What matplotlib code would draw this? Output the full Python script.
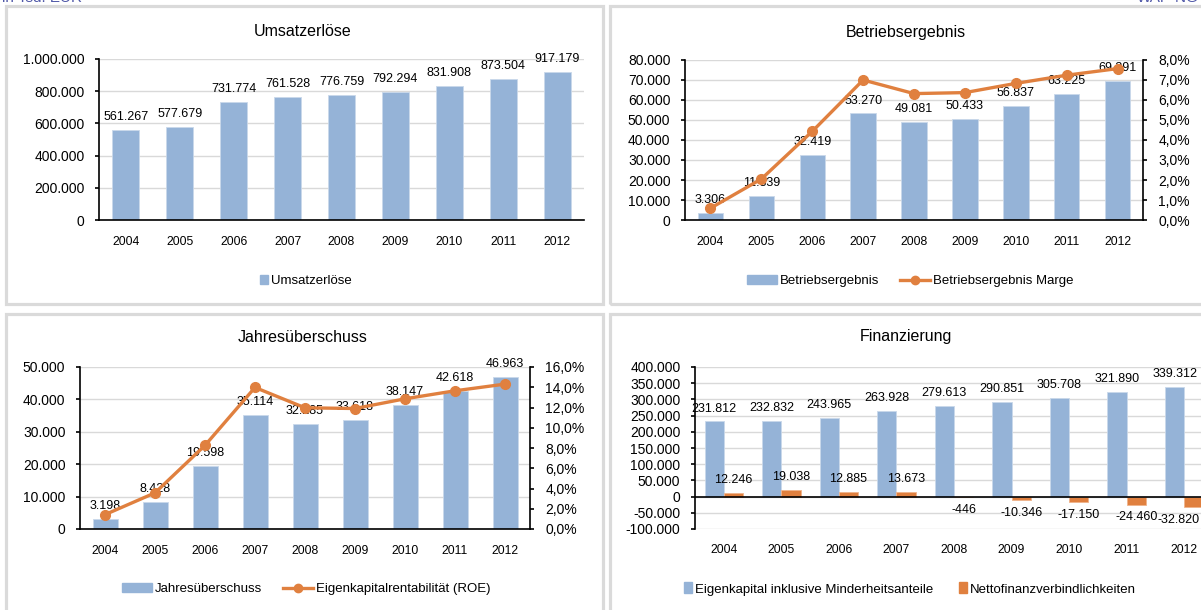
import matplotlib
matplotlib.use("Agg")
import matplotlib.pyplot as plt
from matplotlib.patches import Rectangle, Patch
from matplotlib.lines import Line2D
from matplotlib.ticker import FuncFormatter, MultipleLocator

plt.rcParams['font.family'] = ['Liberation Sans', 'DejaVu Sans']

years = ['2004', '2005', '2006', '2007', '2008', '2009', '2010', '2011', '2012']
umsatz = [561267, 577679, 731774, 761528, 776759, 792294, 831908, 873504, 917179]
betriebsergebnis = [3306, 11839, 32419, 53270, 49081, 50433, 56837, 63225, 69391]
betrieb_marge = [0.59, 2.05, 4.43, 7.00, 6.32, 6.37, 6.83, 7.24, 7.57]
jahresueberschuss = [3198, 8428, 19598, 35114, 32285, 33618, 38147, 42618, 46963]
roe = [1.42, 3.57, 8.26, 13.98, 11.97, 11.90, 12.86, 13.65, 14.31]
eigenkapital = [231812, 232832, 243965, 263928, 279613, 290851, 305708, 321890, 339312]
nettofinanz = [12246, 19038, 12885, 13673, -446, -10346, -17150, -24460, -32820]

BLUE = '#95B3D7'
ORANGE = '#E0803F'
GRID = '#D9D9D9'
W, H = 1201, 610

fig = plt.figure(figsize=(W / 100, H / 100), dpi=100)
fig.patch.set_facecolor('white')


def fx(x):
    return x / W


def fy(y):
    return 1 - y / H


def de(v):
    return f"{v:,}".replace(",", ".")


def pct(v, _=None):
    return f"{v:.1f}%".replace(".", ",")


def num_fmt(v, _=None):
    return de(int(round(v)))


# panel frames
for (x0, y0, x1, y1) in [(6, 6, 603, 304), (610, 6, 1215, 304),
                         (6, 314, 603, 625), (610, 314, 1215, 625)]:
    fig.patches.append(Rectangle((fx(x0), fy(y1)), fx(x1 - x0), (y1 - y0) / H,
                                 transform=fig.transFigure, fill=False,
                                 edgecolor='#DADADA', linewidth=2.3, zorder=0))

fig.text(fx(2), fy(1.5), 'in Tsd. EUR', color='#5058A8', fontsize=11, va='baseline', ha='left')
fig.text(fx(1199), fy(1.5), 'WAP-NG', color='#5058A8', fontsize=11, va='baseline', ha='right')


def make_ax(x0, y0, x1, y1):
    ax = fig.add_axes([fx(x0), fy(y1), fx(x1 - x0), (y1 - y0) / H])
    ax.set_facecolor('none')
    for s in ['top', 'right']:
        ax.spines[s].set_visible(False)
    ax.spines['left'].set_linewidth(1.2)
    ax.spines['bottom'].set_linewidth(1.2)
    ax.grid(axis='y', color=GRID, linewidth=1)
    ax.set_axisbelow(True)
    ax.tick_params(axis='y', direction='out', length=3, width=1.2, labelsize=10, pad=7.5)
    ax.tick_params(axis='x', length=0, labelsize=8.7, pad=11.5)
    ax.set_xlim(-0.5, len(years) - 0.5)
    ax.set_xticks(range(len(years)))
    ax.set_xticklabels(years)
    ax.yaxis.set_major_formatter(FuncFormatter(num_fmt))
    return ax


def label_bars(ax, xs, vals, off=5, shift_last=0):
    n = len(vals)
    for i, (x, v) in enumerate(zip(xs, vals)):
        dx = shift_last if i == n - 1 else 0
        if v >= 0:
            ax.annotate(de(v), (x, v), xytext=(dx, off), textcoords='offset points',
                        ha='center', va='bottom', fontsize=9)
        else:
            ax.annotate(de(v), (x, v), xytext=(dx, -off), textcoords='offset points',
                        ha='center', va='top', fontsize=9)


def make_twin(ax, top, step):
    ax2 = ax.twinx()
    for s in ['top', 'left', 'bottom']:
        ax2.spines[s].set_visible(False)
    ax2.spines['right'].set_linewidth(1.2)
    ax2.set_ylim(0, top)
    ax2.yaxis.set_major_locator(MultipleLocator(step))
    ax2.yaxis.set_major_formatter(FuncFormatter(pct))
    ax2.tick_params(axis='y', direction='out', length=3, width=1.2, labelsize=10, pad=8)
    return ax2


xs = list(range(len(years)))

# ---------- Umsatzerlöse ----------
ax = make_ax(99, 59, 584, 220)
ax.bar(xs, umsatz, width=0.5, color=BLUE, edgecolor='#C9D8EA', linewidth=0.6)
ax.set_ylim(0, 1000000)
ax.yaxis.set_major_locator(MultipleLocator(200000))
label_bars(ax, xs, umsatz)
fig.text(fx(303), fy(32), 'Umsatzerlöse', ha='center', va='center', fontsize=11.5)
fig.legend(handles=[Patch(color=BLUE, label='Umsatzerlöse')],
           loc='center', bbox_to_anchor=(fx(306), fy(281)), frameon=False,
           fontsize=9.5, handlelength=0.6, handleheight=0.6, handletextpad=0.2)

# ---------- Betriebsergebnis ----------
ax = make_ax(685, 60, 1143, 220)
ax.bar(xs, betriebsergebnis, width=0.5, color=BLUE, edgecolor='#C9D8EA', linewidth=0.6)
ax.set_ylim(0, 80000)
ax.yaxis.set_major_locator(MultipleLocator(10000))
label_bars(ax, xs, betriebsergebnis)
ax2 = make_twin(ax, 8, 1)
ax2.plot(xs, betrieb_marge, color=ORANGE, linewidth=2.4, marker='o', markersize=7)
fig.text(fx(906), fy(32), 'Betriebsergebnis', ha='center', va='center', fontsize=11.5)
fig.legend(handles=[Patch(color=BLUE, label='Betriebsergebnis'),
                    Line2D([], [], color=ORANGE, linewidth=2.4, marker='o', markersize=6,
                           label='Betriebsergebnis Marge')],
           loc='center', bbox_to_anchor=(fx(910), fy(281)), frameon=False, ncol=2,
           fontsize=9.5, handlelength=2.3, handleheight=0.6, handletextpad=0.2,
           columnspacing=1.6)

# ---------- Jahresüberschuss ----------
ax = make_ax(80, 367, 530, 529)
ax.bar(xs, jahresueberschuss, width=0.5, color=BLUE, edgecolor='#C9D8EA', linewidth=0.6)
ax.set_ylim(0, 50000)
ax.yaxis.set_major_locator(MultipleLocator(10000))
label_bars(ax, xs, jahresueberschuss)
ax2 = make_twin(ax, 16, 2)
ax2.plot(xs, roe, color=ORANGE, linewidth=2.4, marker='o', markersize=7)
fig.text(fx(303), fy(337), 'Jahresüberschuss', ha='center', va='center', fontsize=11.5)
fig.legend(handles=[Patch(color=BLUE, label='Jahresüberschuss'),
                    Line2D([], [], color=ORANGE, linewidth=2.4, marker='o', markersize=6,
                           label='Eigenkapitalrentabilität (ROE)')],
           loc='center', bbox_to_anchor=(fx(306), fy(589)), frameon=False, ncol=2,
           fontsize=9.5, handlelength=2.3, handleheight=0.6, handletextpad=0.2,
           columnspacing=1.6)

# ---------- Finanzierung ----------
ax = make_ax(695, 367, 1213, 529)
ax.spines['bottom'].set_visible(False)
bw = 1 / 3
xb = [x - bw / 2 for x in xs]
xo = [x + bw / 2 for x in xs]
ax.bar(xb, eigenkapital, width=bw, color=BLUE, edgecolor='#C9D8EA', linewidth=0.6)
ax.bar(xo, nettofinanz, width=bw, color=ORANGE, edgecolor='#F0B48C', linewidth=0.6)
ax.axhline(0, color='black', linewidth=1.2, zorder=3)
ax.set_ylim(-100000, 400000)
ax.yaxis.set_major_locator(MultipleLocator(50000))
label_bars(ax, xb, eigenkapital)
label_bars(ax, xo, nettofinanz, shift_last=-11)
ax.tick_params(axis='x', pad=11)
fig.text(fx(906), fy(337), 'Finanzierung', ha='center', va='center', fontsize=11.5)
fig.legend(handles=[Patch(color=BLUE, label='Eigenkapital inklusive Minderheitsanteile'),
                    Patch(color=ORANGE, label='Nettofinanzverbindlichkeiten')],
           loc='center', bbox_to_anchor=(fx(910), fy(589)), frameon=False, ncol=2,
           fontsize=9.5, handlelength=0.6, handleheight=0.9, handletextpad=0.2,
           columnspacing=2.0)

fig.savefig('out.png', dpi=100)
